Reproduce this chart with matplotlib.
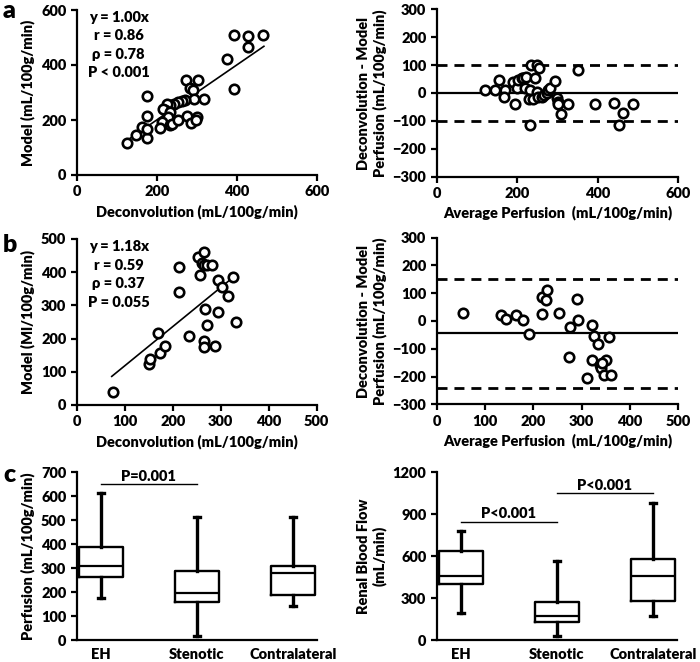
import numpy as np
import matplotlib.pyplot as plt

plt.rcParams['font.family'] = ['Lato', 'DejaVu Sans']
plt.rcParams['font.weight'] = 'heavy'
plt.rcParams['font.size'] = 10

FW = 'heavy'
FS = 10.5

# --- panel a: deconvolution vs model (perfusion) ---
a_x = [394, 429, 466, 427, 375, 394, 304, 318, 273, 283, 290, 292, 270, 262, 254,
       242, 233, 226, 220, 216, 233, 229, 212, 209, 233, 237, 254, 275, 286, 300,
       298, 175, 175, 175, 163, 148, 125, 176]
a_y = [509, 505, 509, 464, 421, 312, 347, 275, 345, 316, 309, 275, 273, 270, 267,
       258, 255, 258, 236, 239, 230, 212, 194, 170, 182, 185, 200, 216, 188, 210,
       200, 288, 216, 133, 173, 145, 117, 166]
a_slope = 1.00
a_fit_range = [130, 468]
a_stats = ["y = 1.00x", "r = 0.86", "\u03c1 = 0.78", "P < 0.001"]

# Bland-Altman a
ba_a_avg = [120, 145, 155, 170, 166, 189, 194, 199, 203, 211, 215, 219, 223, 233,
            232, 228, 232, 240, 244, 248, 255, 248, 252, 261, 266, 273, 277, 281,
            294, 298, 300, 302, 308, 327, 350, 393, 440, 463, 453, 487]
ba_a_diff = [10, 10, 46, 10, -14, 40, -41, 19, 46, 52, 55, 19, 58, 100, 10, -20,
             -113, -23, 55, 100, 88, 4, -14, -14, -6, 0, 12, 19, 43, -17, -32, -41,
             -74, -41, 84, -41, -36, -72, -113, -41]
ba_a_mean = 0
ba_a_loa = [102, -102]

# --- panel b ---
b_x = [75, 151, 153, 174, 183, 170, 213, 213, 234, 256, 253, 265, 260, 265, 271,
       281, 267, 272, 265, 265, 288, 295, 295, 302, 316, 326, 332]
b_y = [40, 125, 138, 156, 179, 216, 341, 417, 208, 392, 447, 460, 427, 422, 422,
       422, 289, 241, 193, 176, 179, 279, 377, 356, 329, 387, 251]
b_slope = 1.18
b_fit_range = [73, 318]
b_stats = ["y = 1.18x", "r = 0.59", "\u03c1 = 0.37", "P = 0.055"]

ba_b_avg = [55, 134, 143, 164, 179, 190, 217, 217, 226, 229, 254, 274, 276, 290,
            293, 321, 326, 333, 321, 312, 338, 341, 350, 347, 360, 357, 343]
ba_b_diff = [30, 20, 8, 20, 2, -46, 26, 86, 74, 110, 30, -130, -22, 80, 2, -13,
             -54, -82, -139, -205, -160, -169, -142, -193, -193, -58, -151]
ba_b_mean = -44
ba_b_loa = [150, -240]

# --- panel c: box plots (min, q1, median, q3, max) ---
groups = ["EH", "Stenotic", "Contralateral"]
perf_min = [174, 17, 143]
perf_q1 = [262, 157, 189]
perf_med = [309, 195, 278]
perf_q3 = [387, 288, 309]
perf_max = [615, 512, 512]

rbf_min = [191, 29, 174]
rbf_q1 = [398, 131, 282]
rbf_med = [458, 174, 458]
rbf_q3 = [637, 270, 582]
rbf_max = [783, 568, 983]

W, H = 700, 662
fig = plt.figure(figsize=(7.0, 6.62), dpi=100)


def axes_px(left, top, right, bottom):
    return fig.add_axes([left / W, 1 - bottom / H, (right - left) / W, (bottom - top) / H])


def style(ax):
    for s in ['top', 'right']:
        ax.spines[s].set_visible(False)
    for s in ['left', 'bottom']:
        ax.spines[s].set_linewidth(1.6)
    ax.tick_params(direction='out', width=1.6, length=4, labelsize=FS)
    for lab in ax.get_xticklabels() + ax.get_yticklabels():
        lab.set_fontweight(FW)


def scatter_panel(ax, x, y, slope, fit, stats, xmax, xstep, ymax, ystep, ylab):
    ax.plot(x, y, 'o', mfc='white', mec='black', mew=1.9, ms=6.8, zorder=3)
    xf = np.array(fit)
    ax.plot(xf, slope * xf, color='black', lw=1.2, zorder=2)
    ax.set_xlim(0, xmax)
    ax.set_ylim(0, ymax)
    ax.set_xticks(np.arange(0, xmax + 1, xstep))
    ax.set_yticks(np.arange(0, ymax + 1, ystep))
    ax.set_xlabel("Deconvolution (mL/100g/min)", fontweight=FW, fontsize=FS)
    ax.set_ylabel(ylab, fontweight=FW, fontsize=FS)
    for i, s in enumerate(stats):
        ax.text(0.175, 0.955 - i * 0.112, s, transform=ax.transAxes, ha='center',
                va='center', fontsize=FS, fontweight=FW)
    style(ax)


def ba_panel(ax, avg, diff, mean, loa, xmax, xstep):
    ax.axhline(mean, color='black', lw=1.6, zorder=1)
    for v in loa:
        ax.axhline(v, color='black', lw=2, dashes=(3.6, 2.5), zorder=1)
    ax.plot(avg, diff, 'o', mfc='white', mec='black', mew=1.9, ms=6.8, zorder=3)
    ax.set_xlim(0, xmax)
    ax.set_ylim(-300, 300)
    ax.set_xticks(np.arange(0, xmax + 1, xstep))
    ax.set_yticks(np.arange(-300, 301, 100))
    ax.set_xlabel("Average Perfusion  (mL/100g/min)", fontweight=FW, fontsize=FS)
    ax.set_ylabel("Deconvolution - Model\nPerfusion (mL/100g/min)", fontweight=FW,
                  fontsize=FS)
    style(ax)


def box_panel(ax, mins, q1, med, q3, maxs, ymax, ystep, ylab, brackets):
    stats = [dict(whislo=mins[i], q1=q1[i], med=med[i], q3=q3[i], whishi=maxs[i],
                  fliers=[], label=groups[i]) for i in range(3)]
    ax.bxp(stats, positions=[1, 2, 3], widths=0.46, showfliers=False, capwidths=0.06,
           boxprops=dict(color='black', lw=1.7),
           medianprops=dict(color='black', lw=1.6),
           whiskerprops=dict(color='black', lw=2.4),
           capprops=dict(color='black', lw=2.4))
    ax.set_xlim(0.75, 3.25)
    ax.set_ylim(0, ymax)
    ax.set_yticks(np.arange(0, ymax + 1, ystep))
    ax.set_ylabel(ylab, fontweight=FW, fontsize=FS)
    for x0, x1, yb, txt in brackets:
        ax.plot([x0, x1], [yb, yb], color='black', lw=1.0)
        ax.text((x0 + x1) / 2, yb + ymax * 0.01, txt, ha='center', va='bottom',
                fontsize=FS, fontweight=FW)
    style(ax)
    ax.tick_params(axis='x', length=0, pad=6)


ax1 = axes_px(76.7, 10, 316.7, 175)
scatter_panel(ax1, a_x, a_y, a_slope, a_fit_range, a_stats, 600, 200, 600, 200,
              "Model (mL/100g/min)")
ax2 = axes_px(436.7, 9.3, 678.3, 176.7)
ba_panel(ax2, ba_a_avg, ba_a_diff, ba_a_mean, ba_a_loa, 600, 200)

ax3 = axes_px(76.7, 239, 316.7, 405)
scatter_panel(ax3, b_x, b_y, b_slope, b_fit_range, b_stats, 500, 100, 500, 100,
              "Model (Ml/100g/min)")
ax4 = axes_px(436.7, 237.7, 678.3, 404.3)
ba_panel(ax4, ba_b_avg, ba_b_diff, ba_b_mean, ba_b_loa, 500, 100)

ax5 = axes_px(76.7, 472.3, 316.7, 640)
box_panel(ax5, perf_min, perf_q1, perf_med, perf_q3, perf_max, 700, 100,
          "Perfusion (mL/100g/min)", [(1, 2, 650, "P=0.001")])
ax6 = axes_px(436.7, 472.3, 677, 640)
box_panel(ax6, rbf_min, rbf_q1, rbf_med, rbf_q3, rbf_max, 1200, 300,
          "Renal Blood Flow\n(mL/min)",
          [(1, 2, 847, "P<0.001"), (2, 3, 1050, "P<0.001")])

for lab, y in [("a", 11), ("b", 245), ("c", 475)]:
    fig.text(3 / W, 1 - y / H, lab, fontsize=18, fontweight=FW, va='center', ha='left')

fig.savefig("out.png", dpi=100)
